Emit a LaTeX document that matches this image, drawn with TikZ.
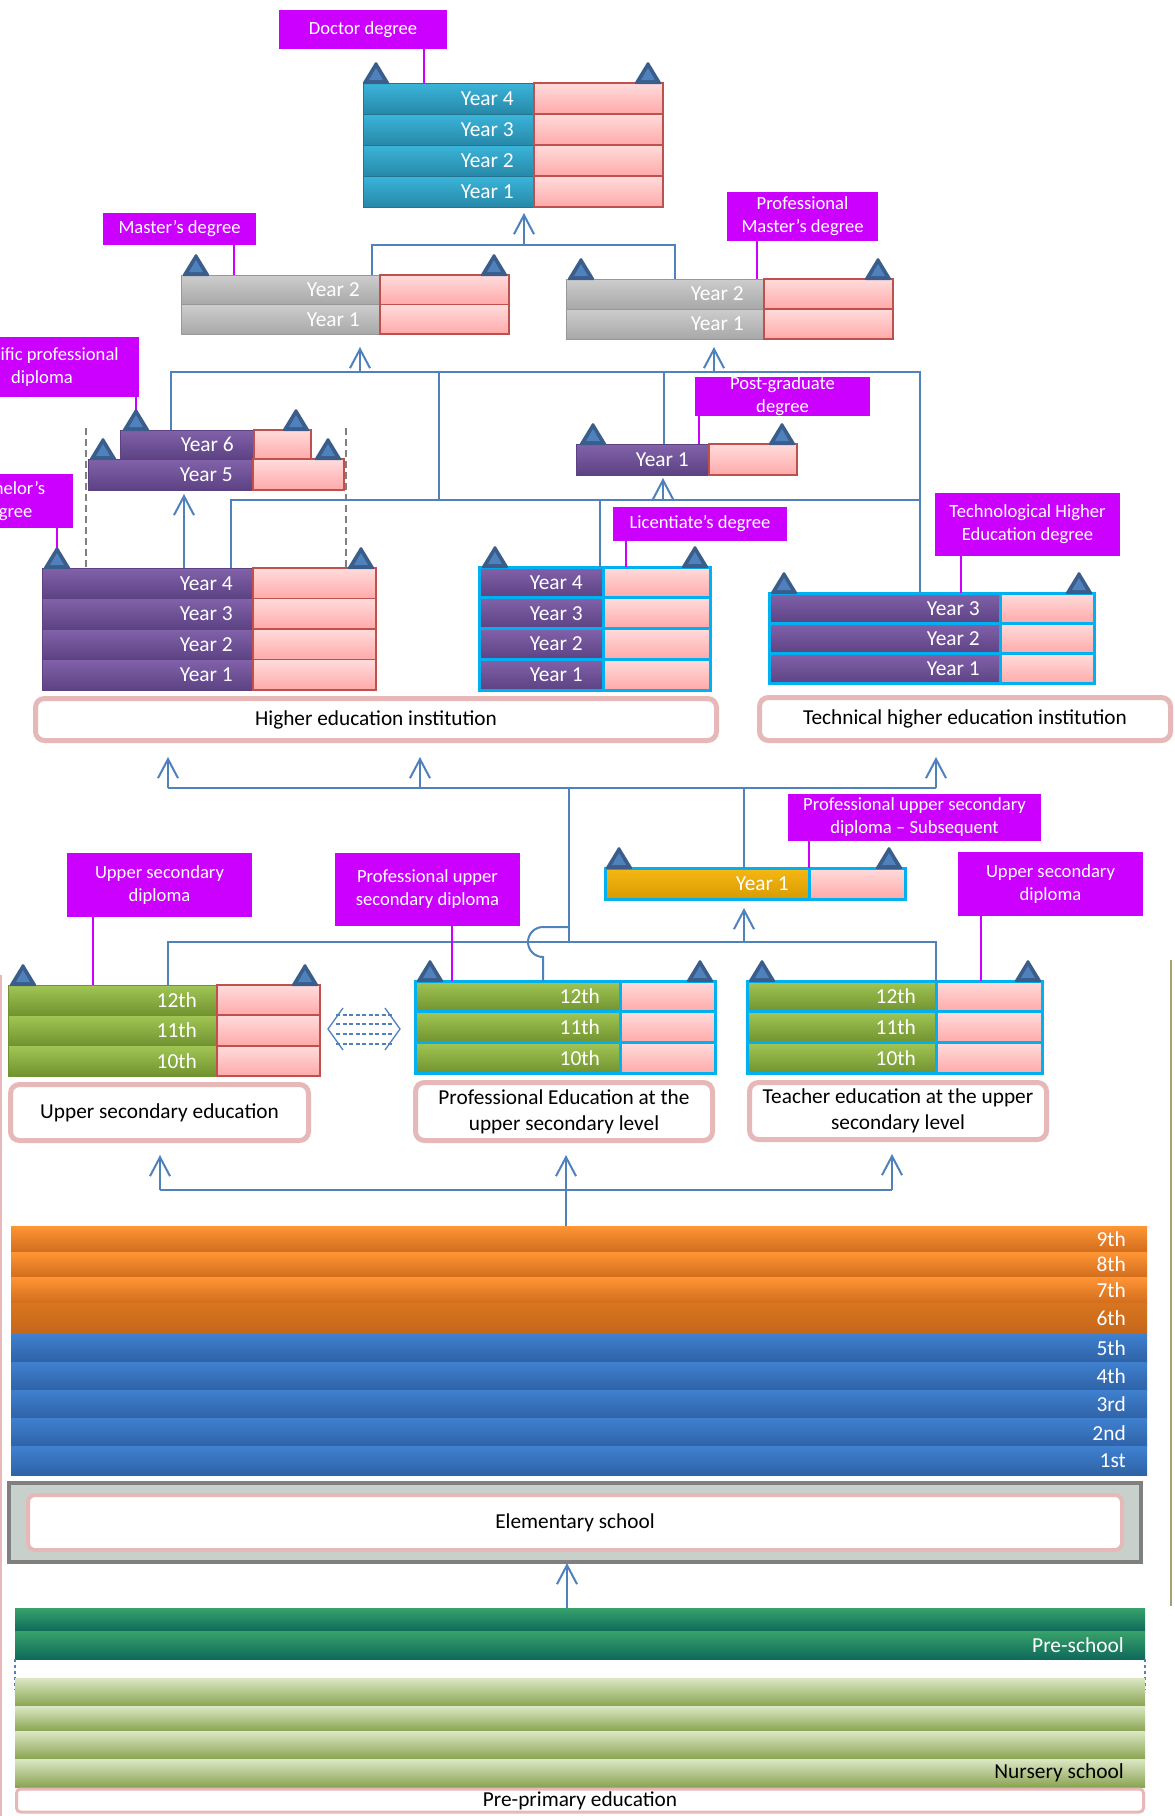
\documentclass[tikz,border=0pt]{standalone}
\usepackage{fontspec}
\setmainfont{Carlito}
\usetikzlibrary{arrows.meta}

\definecolor{mag}{HTML}{CC00FF}
\definecolor{connc}{HTML}{4F81BD}
\definecolor{tealT}{HTML}{3AB5DA}
\definecolor{tealB}{HTML}{2888A8}
\definecolor{grayT}{HTML}{CDCDCD}
\definecolor{grayB}{HTML}{A8A8A8}
\definecolor{purpT}{HTML}{8262AA}
\definecolor{purpB}{HTML}{5C4283}
\definecolor{greenT}{HTML}{A2C655}
\definecolor{greenB}{HTML}{71922F}
\definecolor{yellT}{HTML}{F6B814}
\definecolor{yellB}{HTML}{D89B00}
\definecolor{pinkT}{HTML}{FFDCDC}
\definecolor{pinkB}{HTML}{FFA9A9}
\definecolor{redb}{HTML}{C0504D}
\definecolor{cyanb}{HTML}{00B0F0}
\definecolor{orT}{HTML}{FF9534}
\definecolor{orB}{HTML}{D26D1E}
\definecolor{or6T}{HTML}{D8751F}
\definecolor{or6B}{HTML}{C5661A}
\definecolor{bluT}{HTML}{3F80CF}
\definecolor{bluB}{HTML}{2E62A6}
\definecolor{psT}{HTML}{38A26C}
\definecolor{psB}{HTML}{0E6A5A}
\definecolor{nuT}{HTML}{DCE8C5}
\definecolor{nuB}{HTML}{89A451}
\definecolor{boxb}{HTML}{E6B9B8}
\definecolor{triO}{HTML}{3A5D8B}
\definecolor{triI}{HTML}{4F81BD}
\definecolor{elemfill}{HTML}{C8D0CB}
\definecolor{elemb}{HTML}{7F7F7F}
\definecolor{olive}{HTML}{A8A070}

\tikzset{
  cellbase/.style={inner sep=0pt, outer sep=0pt},
  tealcell/.style={cellbase, top color=tealT, bottom color=tealB, draw=tealB!85!black, line width=0.6pt},
  graycell/.style={cellbase, top color=grayT, bottom color=grayB, draw=grayB!90!black, line width=0.6pt},
  purpcell/.style={cellbase, top color=purpT, bottom color=purpB, draw=purpB, line width=0.6pt},
  purpcy/.style={cellbase, top color=purpT, bottom color=purpB, draw=cyanb, line width=3pt},
  greencell/.style={cellbase, top color=greenT, bottom color=greenB, draw=greenB, line width=0.6pt},
  greency/.style={cellbase, top color=greenT, bottom color=greenB, draw=cyanb, line width=3pt},
  yellcy/.style={cellbase, top color=yellT, bottom color=yellB, draw=cyanb, line width=3pt},
  pinkr/.style={cellbase, top color=pinkT, bottom color=pinkB, draw=redb, line width=1.8pt},
  pinkc/.style={cellbase, top color=pinkT, bottom color=pinkB, draw=cyanb, line width=3pt},
  orcell/.style={cellbase, top color=orT, bottom color=orB},
  or6cell/.style={cellbase, top color=or6T, bottom color=or6B},
  blucell/.style={cellbase, top color=bluT, bottom color=bluB},
  pscell/.style={cellbase, top color=psT, bottom color=psB},
  nucell/.style={cellbase, top color=nuT, bottom color=nuB},
  yt/.style={inner sep=0pt, text=white, font=\fontsize{21.4}{25}\selectfont},
  lab/.style={fill=mag, text=white, inner sep=0pt, align=center, font=\fontsize{18.6}{23}\selectfont},
  instbox/.style={draw=boxb, line width=5pt, fill=white, rounded corners=9pt, inner sep=0pt, align=center, text=black, font=\fontsize{21.3}{26}\selectfont},
  conn/.style={draw=connc, line width=2pt},
  conna/.style={draw=connc, line width=2pt, -{Straight Barb[length=19pt,width=20pt,line width=2pt]}},
  labline/.style={draw=mag, line width=2pt},
}

% year row: name, left style, right style, x, y, left width, right width, height, text
\newcommand{\yrow}[9]{%
  \node[#2, anchor=north west, minimum width=#6pt, minimum height=#8pt] (#1) at (#4,#5) {};
  \node[#3, anchor=north west, minimum width=#7pt, minimum height=#8pt] (#1p) at (#1.north east) {};
  \node[yt, anchor=east] (#1t) at ([xshift=-20pt]#1.east) {#9};}
% band: name, style, x, y, width, height, text, text colour
\newcommand{\band}[8]{%
  \node[#2, anchor=north west, minimum width=#5pt, minimum height=#6pt] (#1) at (#3,#4) {};
  \node[yt, text=#8, anchor=east] (#1t) at ([xshift=-21pt]#1.east) {#7};}
% triangle marker: x, base y
\newcommand{\tri}[2]{%
  \fill[triO, rounded corners=1.5pt] (#1-14,#2+1) -- (#1,#2-22) -- (#1+14,#2+1) -- cycle;
  \fill[triI] (#1-7,#2-3) -- (#1,#2-15) -- (#1+7,#2-3) -- cycle;}

\begin{document}
\begin{tikzpicture}[x=1pt, y=-1pt]
\useasboundingbox[fill=white] (0,0) rectangle (1175,1816);

% ---------- edge lines ----------
\draw[boxb, line width=1.5pt] (1,975) -- (1,1816);
\draw[olive, line width=2pt] (1171,960) -- (1171,1606);

% ---------- blocks ----------
% Doctor
\yrow{d4}{tealcell}{pinkr}{363}{83}{171}{129}{31}{Year 4}
\yrow{d3}{tealcell}{pinkr}{363}{114}{171}{129}{31}{Year 3}
\yrow{d2}{tealcell}{pinkr}{363}{145}{171}{129}{31}{Year 2}
\yrow{d1}{tealcell}{pinkr}{363}{176}{171}{129}{31}{Year 1}
% Master
\yrow{m2}{graycell}{pinkr}{181}{275}{199}{129}{29.5}{Year 2}
\yrow{m1}{graycell}{pinkr}{181}{304.5}{199}{129}{29.5}{Year 1}
% Professional master
\yrow{pm2}{graycell}{pinkr}{566}{279}{198}{129}{30}{Year 2}
\yrow{pm1}{graycell}{pinkr}{566}{309}{198}{129}{30}{Year 1}
% Year 6 / 5
\yrow{y6}{purpcell}{pinkr}{120}{430}{134}{57}{29}{Year 6}
\yrow{y5}{purpcell}{pinkr}{88}{459}{165}{91}{31}{Year 5}
% Bachelor 4 years
\yrow{b4}{purpcell}{pinkr}{42}{568}{211}{123}{30.5}{Year 4}
\yrow{b3}{purpcell}{pinkr}{42}{598.5}{211}{123}{30.5}{Year 3}
\yrow{b2}{purpcell}{pinkr}{42}{629}{211}{123}{30.5}{Year 2}
\yrow{b1}{purpcell}{pinkr}{42}{659.5}{211}{123}{30.5}{Year 1}
% Post-graduate
\yrow{pg1}{purpcell}{pinkr}{576}{444}{133}{88}{31}{Year 1}
% Licentiate
\yrow{li4}{purpcy}{pinkc}{479}{567}{124}{107}{30.75}{Year 4}
\yrow{li3}{purpcy}{pinkc}{479}{597.75}{124}{107}{30.75}{Year 3}
\yrow{li2}{purpcy}{pinkc}{479}{628.5}{124}{107}{30.75}{Year 2}
\yrow{li1}{purpcy}{pinkc}{479}{659.25}{124}{107}{30.75}{Year 1}
% Technological
\yrow{th3}{purpcy}{pinkc}{769}{593}{231}{94}{30.3}{Year 3}
\yrow{th2}{purpcy}{pinkc}{769}{623.3}{231}{94}{30.3}{Year 2}
\yrow{th1}{purpcy}{pinkc}{769}{653.6}{231}{94}{30.3}{Year 1}
% Subsequent
\yrow{yr1}{yellcy}{pinkc}{605}{868}{204}{96}{31}{Year 1}
% Upper secondary
\yrow{us12}{greencell}{pinkr}{8}{985}{209}{103}{30.3}{12th}
\yrow{us11}{greencell}{pinkr}{8}{1015.3}{209}{103}{30.3}{11th}
\yrow{us10}{greencell}{pinkr}{8}{1045.6}{209}{103}{30.3}{10th}
% Professional upper secondary
\yrow{pr12}{greency}{pinkc}{415}{981}{205}{95}{30.7}{12th}
\yrow{pr11}{greency}{pinkc}{415}{1011.7}{205}{95}{30.7}{11th}
\yrow{pr10}{greency}{pinkc}{415}{1042.4}{205}{95}{30.7}{10th}
% Teacher
\yrow{te12}{greency}{pinkc}{747}{981}{189}{106}{30.7}{12th}
\yrow{te11}{greency}{pinkc}{747}{1011.7}{189}{106}{30.7}{11th}
\yrow{te10}{greency}{pinkc}{747}{1042.4}{189}{106}{30.7}{10th}

% ---------- institution boxes ----------
\node[instbox, minimum width=681pt, minimum height=42pt] (heibox) at (376,719.5) {Higher education institution};
\node[instbox, minimum width=411pt, minimum height=43pt] (thibox) at (965,719) {Technical higher education institution};
\node[instbox, minimum width=298pt, minimum height=56pt] (usbox) at (159.5,1112.5) {Upper secondary education};
\node[instbox, minimum width=297pt, minimum height=58pt] (prbox) at (564,1111.5) {Professional Education at the\\upper secondary level};
\node[instbox, minimum width=297pt, minimum height=57pt] (tebox) at (898,1111) {Teacher education at the upper\\secondary level};

% ---------- basic education bands ----------
\band{g9}{orcell}{11}{1226}{1136}{26}{9th}{white}
\band{g8}{orcell}{11}{1252}{1136}{25}{8th}{white}
\band{g7}{orcell}{11}{1277}{1136}{26}{7th}{white}
\band{g6}{or6cell}{11}{1303}{1136}{31}{6th}{white}
\band{g5}{blucell}{11}{1334}{1136}{28.2}{5th}{white}
\band{g4}{blucell}{11}{1362.2}{1136}{28.2}{4th}{white}
\band{g3}{blucell}{11}{1390.4}{1136}{28.2}{3rd}{white}
\band{g2}{blucell}{11}{1418.6}{1136}{28.2}{2nd}{white}
\band{g1}{blucell}{11}{1446.8}{1136}{28.2}{1st}{white}

\node[draw=elemb, fill=elemfill, line width=4pt, inner sep=0pt, minimum width=1132pt, minimum height=79pt] (elemouter) at (575,1522.5) {};
\node[instbox, line width=4pt, rounded corners=7pt, minimum width=1094pt, minimum height=55pt] (eleminner) at (575,1522.5) {Elementary school};

\band{ps2}{pscell}{15}{1608}{1130}{23}{}{white}
\band{ps1}{pscell}{15}{1631}{1130}{28}{Pre-school}{white}
\draw[connc, dashed, line width=1.2pt] (ps1.south west) -- ++(0,31);
\draw[connc, dashed, line width=1.2pt] (ps1.south east) -- ++(0,31);
\band{nu4}{nucell}{15}{1678}{1130}{28}{}{black}
\band{nu3}{nucell}{15}{1706}{1130}{25}{}{black}
\band{nu2}{nucell}{15}{1731}{1130}{28}{}{black}
\band{nu1}{nucell}{15}{1759}{1130}{28}{Nursery school}{black}
\node[instbox, line width=3pt, rounded corners=4pt, minimum width=1127pt, minimum height=23pt] (ppbox) at (580,1800.5) {Pre-primary education};

% ---------- gray dashed guides ----------
\draw[elemb, dashed, dash pattern=on 7pt off 4pt, line width=2.5pt] (86,428) -- (86,567);
\draw[elemb, dashed, dash pattern=on 7pt off 4pt, line width=2.5pt] (346,428) -- (346,567);

% ---------- connectors (higher education) ----------
\draw[conn] (m2.north -| 372,0) -- (372,245) -- (675,245) -- (pm2.north -| 675,0);
\draw[conna, shorten >=6pt] (524,245) -- (d1.south -| 524,0);
\draw[conn] (y6.north -| 171,0) -- (171,372) -- (920,372) -- (th3.north -| 920,0);
\draw[conn] (439,372) -- (439,500);
\draw[conn] (b4.north -| 231,0) -- (231,500) -- (920,500);
\draw[conn] (600,500) -- (li4.north -| 600,0);
\draw[conn] (664,372) -- (pg1.north -| 664,0);
\draw[conna, shorten >=13pt] (360,372) -- (m1.south -| 360,0);
\draw[conna, shorten >=8pt] (714,372) -- (pm1.south -| 714,0);
\draw[conna, shorten >=3pt] (663,500) -- (pg1.south -| 663,0);
\draw[conna, shorten >=4pt] (b4.north -| 184,0) -- (y5.south -| 184,0);

% ---------- connectors (secondary) ----------
\draw[conn] (168,788) -- (936,788);
\draw[conna, shorten >=14pt] (168,788) -- (heibox.south -| 168,0);
\draw[conna, shorten >=14pt] (420,788) -- (heibox.south -| 420,0);
\draw[conna, shorten >=14pt] (936,788) -- (thibox.south -| 936,0);
\draw[conn] (569,788) -- (569,942);
\draw[conn] (744,788) -- (yr1.north -| 744,0);
\draw[conn] (us12.north -| 168,0) -- (168,942) -- (936,942) -- (te12.north -| 936,0);
\draw[conna, shorten >=9pt] (744,942) -- (yr1.south -| 744,0);
\draw[conn] (pr12.north -| 543,0) -- (543,957) arc[start angle=90, end angle=270, radius=15] -- (569,927);

% dashed double arrow (equivalence)
\draw[connc, line width=1.3pt] (343,1008) -- (328,1029) -- (343,1050);
\draw[connc, line width=1.3pt] (385,1008) -- (400,1029) -- (385,1050);
\foreach \yy in {1015,1024,1034,1044}
  \draw[connc, dashed, dash pattern=on 4pt off 2.5pt, line width=1.3pt] (336,\yy) -- (392,\yy);

% ---------- connectors (basic) ----------
\draw[conn] (160,1190) -- (892,1190);
\draw[conna, shorten >=12pt] (160,1190) -- (usbox.south -| 160,0);
\draw[conna, shorten >=12pt] (566,1190) -- (prbox.south -| 566,0);
\draw[conna, shorten >=12pt] (892,1190) -- (tebox.south -| 892,0);
\draw[conn] (566,1190) -- (g9.north -| 566,0);
\draw[conna, shorten >=-1pt] (ps2.north -| 567,0) -- (elemouter.south -| 567,0);

% ---------- labels ----------
\node[lab, minimum width=168pt, minimum height=39pt] (doclab) at (363,29.5) {Doctor degree};
\node[lab, minimum width=153pt, minimum height=32pt] (maslab) at (179.5,229) {Master’s degree};
\node[lab, minimum width=151pt, minimum height=49pt] (pmlab) at (802.5,216.5) {Professional\\Master’s degree};
\node[lab, minimum width=175pt, minimum height=39pt] (pglab) at (782.5,396.5) {Post-graduate\\degree};
\node[lab, minimum width=174pt, minimum height=34pt] (lilab) at (700,524) {Licentiate’s degree};
\node[lab, minimum width=185pt, minimum height=63pt] (telab) at (1027.5,524.5) {Technological Higher\\Education degree};
\node[lab, minimum width=253pt, minimum height=47pt] (pslab) at (914.5,817.5) {Professional upper secondary\\diploma – Subsequent};
\node[lab, minimum width=185pt, minimum height=64pt] (usd1) at (159.5,885) {Upper secondary\\diploma};
\node[lab, minimum width=185pt, minimum height=73pt] (pusd) at (427.5,889.5) {Professional upper\\secondary diploma};
\node[lab, minimum width=185pt, minimum height=64pt] (usd2) at (1050.5,884) {Upper secondary\\diploma};
\begin{scope}
\clip (0,0) rectangle (1175,1816);
\node[lab, minimum width=194pt, minimum height=60pt] (splab) at (42,367) {Specific professional\\diploma};
\node[lab, minimum width=134pt, minimum height=54pt] (balab) at (6,501) {Bachelor’s\\degree};
\end{scope}

% label lines
\draw[labline] (doclab.south -| 424,0) -- (d4.north -| 424,0);
\draw[labline] (maslab.south -| 234,0) -- (m2.north -| 234,0);
\draw[labline] (pmlab.south -| 757,0) -- (pm2.north -| 757,0);
\draw[labline] (splab.south -| 136,0) -- (y6.north -| 136,0);
\draw[labline] (balab.south -| 57,0) -- (b4.north -| 57,0);
\draw[labline] (pglab.south -| 699,0) -- (pg1.north -| 699,0);
\draw[labline] (lilab.south -| 626,0) -- (li4.north -| 626,0);
\draw[labline] (telab.south -| 961,0) -- (th3.north -| 961,0);
\draw[labline] (pslab.south -| 809,0) -- (yr1.north -| 809,0);
\draw[labline] (usd1.south -| 93,0) -- (us12.north -| 93,0);
\draw[labline] (pusd.south -| 452,0) -- (pr12.north -| 452,0);
\draw[labline] (usd2.south -| 981,0) -- (te12.north -| 981,0);

% ---------- triangles ----------
\tri{376}{83}\tri{648}{83}
\tri{196}{275}\tri{494}{275}
\tri{581}{279}\tri{878}{279}
\tri{136}{430}\tri{296}{430}
\tri{103}{459}\tri{328}{459}
\tri{57}{568}\tri{361}{568}
\tri{593}{444}\tri{782}{444}
\tri{495}{567}\tri{695}{567}
\tri{784}{593}\tri{1079}{593}
\tri{619}{868}\tri{889}{868}
\tri{23}{985}\tri{305}{985}
\tri{430}{981}\tri{700}{981}
\tri{762}{981}\tri{1028}{981}
\end{tikzpicture}
\end{document}
